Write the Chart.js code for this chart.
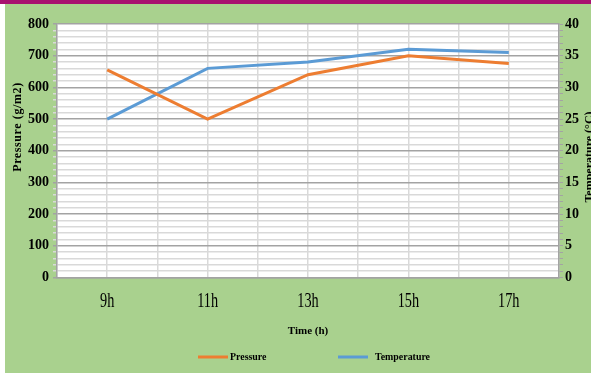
<!DOCTYPE html>
<html lang="en">
<head>
<meta charset="UTF-8">
<title>Pressure and Temperature</title>
<script src="https://cdn.jsdelivr.net/npm/chart.js"></script>
<style>
  html, body { margin: 0; padding: 0; background: #A9D18E; }
  canvas { display: block; }
</style>
</head>
<body>
<canvas id="chart" width="591" height="373"></canvas>
<script>
// measurements by hour of day
const hours = [9, 11, 13, 15, 17];
const hourLabels = ['9h', '11h', '13h', '15h', '17h'];
const pressure = [655, 500, 640, 700, 675];
const temperature = [25, 33, 34, 36, 35.5];

const SERIF = "'Liberation Serif', 'Times New Roman', serif";
const GREEN = '#A9D18E';
const MAJOR = '#A3A3A3';
const MINOR = '#D9D9D9';

// page background, top band and white plot area
const backdrop = {
    id: 'backdrop',
    beforeDraw(chart) {
        const {ctx, chartArea: a} = chart;
        ctx.save();
        ctx.fillStyle = GREEN;
        ctx.fillRect(0, 0, chart.width, chart.height);
        ctx.fillStyle = '#FFFFFF';
        ctx.fillRect(0, 0, 5, chart.height);
        ctx.fillStyle = '#A8116F';
        ctx.fillRect(0, 0, chart.width, 4);
        ctx.fillStyle = '#FFFFFF';
        ctx.fillRect(a.left, a.top, a.right - a.left, a.bottom - a.top);
        ctx.restore();
    }
};

// narrow hour labels, legend row and both axis titles
const extras = {
    id: 'extras',
    afterDraw(chart) {
        const {ctx, chartArea: a} = chart;
        const xs = chart.scales.x;
        ctx.save();
        ctx.fillStyle = '#000';

        // hour labels, squeezed horizontally
        ctx.font = '21px ' + SERIF;
        ctx.textAlign = 'center';
        ctx.textBaseline = 'alphabetic';
        hours.forEach((h, i) => {
            ctx.save();
            ctx.translate(xs.getPixelForValue(h), 307);
            ctx.scale(0.68, 1);
            ctx.fillText(hourLabels[i], 0, 0);
            ctx.restore();
        });

        // legend
        ctx.font = 'bold 11px ' + SERIF;
        ctx.textAlign = 'left';
        ctx.textBaseline = 'middle';
        const spots = [198, 338];
        chart.data.datasets.forEach((ds, i) => {
            const x = spots[i];
            ctx.strokeStyle = ds.borderColor;
            ctx.lineWidth = 3;
            ctx.beginPath();
            ctx.moveTo(x, 357);
            ctx.lineTo(x + 30, 357);
            ctx.stroke();
            ctx.save();
            ctx.translate(x + 32 + i * 5, 357);
            ctx.scale(0.9, 1);
            ctx.fillText(ds.label, 0, 0);
            ctx.restore();
        });

        // axis titles
        ctx.textAlign = 'center';
        ctx.font = 'bold 12px ' + SERIF;
        ctx.save();
        ctx.translate(18, 127);
        ctx.rotate(-Math.PI / 2);
        ctx.letterSpacing = '0.6px';
        ctx.fillText('Pressure (g/m2)', 0, 0);
        ctx.restore();
        ctx.save();
        ctx.translate(590, 157);
        ctx.rotate(-Math.PI / 2);
        ctx.fillText('Temperature (°C)', 0, 0);
        ctx.restore();
        ctx.restore();
    }
};

new Chart(document.getElementById('chart'), {
    type: 'line',
    data: {
        datasets: [{
            label: 'Pressure',
            data: hours.map((h, i) => ({x: h, y: pressure[i]})),
            borderColor: '#ED7D31',
            backgroundColor: '#ED7D31',
            borderWidth: 3,
            pointRadius: 0,
            tension: 0,
            yAxisID: 'y'
        }, {
            label: 'Temperature',
            data: hours.map((h, i) => ({x: h, y: temperature[i]})),
            borderColor: '#5B9BD5',
            backgroundColor: '#5B9BD5',
            borderWidth: 3,
            pointRadius: 0,
            tension: 0,
            yAxisID: 'y2'
        }]
    },
    options: {
        responsive: false,
        animation: false,
        layout: { padding: { top: 24, bottom: 30, left: 0, right: 0 } },
        plugins: {
            legend: { display: false },
            tooltip: { enabled: false }
        },
        scales: {
            x: {
                type: 'linear',
                min: 8,
                max: 18,
                afterFit(s) { s.height = 65.5; },
                ticks: {
                    stepSize: 1,
                    autoSkip: false,
                    display: false
                },
                grid: { color: MINOR, lineWidth: 1.5, drawTicks: false },
                border: { color: MAJOR, width: 1.5 },
                title: {
                    display: true,
                    text: 'Time (h)',
                    color: '#000',
                    font: { family: SERIF, size: 11, weight: 'bold' },
                    padding: { top: 0, bottom: 5 }
                }
            },
            y: {
                position: 'left',
                min: 0,
                max: 800,
                afterFit(s) { s.width = 57; },
                ticks: {
                    stepSize: 20,
                    autoSkip: false,
                    padding: 4,
                    color: '#000',
                    font: { family: SERIF, size: 14, weight: 'bold' },
                    callback: v => v % 100 === 0 ? v : ''
                },
                grid: {
                    color: c => c.tick.value % 100 === 0 ? MAJOR : MINOR,
                    lineWidth: 1.5,
                    tickLength: 4
                },
                border: { color: MAJOR, width: 1.5 }
            },
            y2: {
                position: 'right',
                min: 0,
                max: 40,
                afterFit(s) { s.width = 32; },
                ticks: {
                    stepSize: 1,
                    autoSkip: false,
                    padding: 2,
                    color: '#000',
                    font: { family: SERIF, size: 14, weight: 'bold' },
                    callback: v => v % 5 === 0 ? v : ''
                },
                grid: { drawOnChartArea: false, color: MAJOR, tickLength: 4 },
                border: { color: MAJOR, width: 1.5 }
            }
        }
    },
    plugins: [backdrop, extras]
});
</script>
</body>
</html>
